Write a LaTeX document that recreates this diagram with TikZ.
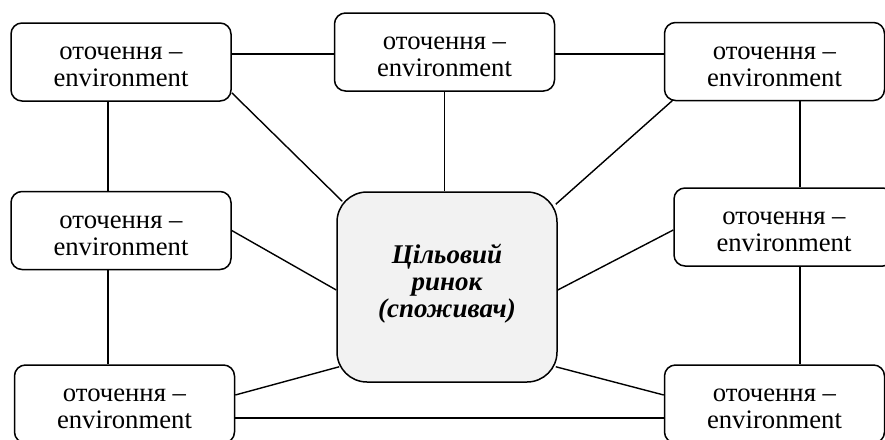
\documentclass[tikz,border=0pt]{standalone}
\usepackage{fontspec}
\setmainfont{Liberation Serif}
\usetikzlibrary{calc}
\newcommand{\envtext}{\rule{0pt}{23pt}оточення –\\environment}
\begin{document}
\begin{tikzpicture}[x=1pt,y=-1pt,
  envbox/.style={draw=black,line width=1.5pt,rounded corners=11pt,fill=white,
    minimum width=220pt,minimum height=78pt,inner sep=0pt,align=center,
    font=\fontsize{26.7}{27}\selectfont},
  mainbox/.style={draw=black,line width=1.5pt,rounded corners=30pt,fill=mainfill,
    minimum width=220pt,minimum height=190pt,inner sep=0pt,align=center,
    font=\fontsize{27}{27}\selectfont\bfseries\itshape},
  link/.style={draw=black,line width=1.4pt}]
\definecolor{mainfill}{HTML}{F2F2F2}
\clip (0,0) rectangle (885,439);
\fill[white] (0,0) rectangle (885,439);
% nodes
\node[mainbox] (C) at (447,287) {Цільовий\\ринок\\(споживач)\rule[-13.4pt]{0pt}{13.4pt}};
\node[envbox] (TL) at (121,62) {\envtext};
\node[envbox] (TM) at (444.5,52) {\envtext};
\node[envbox] (TR) at (774.5,61.5) {\envtext};
\node[envbox] (LM) at (121,230.5) {\envtext};
\node[envbox] (RM) at (784,227) {\envtext};
\node[envbox] (BL) at (124.5,404) {\envtext};
\node[envbox] (BR) at (774.5,404) {\envtext};
% connectors
\draw[link] ($(TL.east)+(0,-8)$) -- ($(TM.west)+(0,2)$);
\draw[link] ($(TM.east)+(0,2)$) -- ($(TR.west)+(0,-7.5)$);
\draw[link] (TM.south) -- (TM.south |- C.north);
\draw[link] ($(TL.south east)+(0,-9)$) -- ($(C.north west)+(6,10)$);
\draw[link] ($(TR.south west)+(9,-1)$) -- ($(C.north east)+(-2,13)$);
\draw[link] ($(TL.south)+(-13,0)$) -- ($(LM.north)+(-13,0)$);
\draw[link] ($(TR.south)+(25.5,0)$) -- ($(RM.north)+(16,0)$);
\draw[link] (LM.east) -- ($(C.west)+(0,3)$);
\draw[link] ($(RM.west)+(0,3)$) -- ($(C.east)+(0,3)$);
\draw[link] ($(LM.south)+(-13,0)$) -- ($(BL.north)+(-16.5,0)$);
\draw[link] ($(RM.south)+(16,0)$) -- ($(BR.north)+(25.5,0)$);
\draw[link] ($(BL.east)+(0,-9)$) -- ($(C.south west)+(3,-16)$);
\draw[link] ($(BR.west)+(0,-9)$) -- ($(C.south east)+(-2,-16)$);
\draw[link] ($(BL.east)+(0,14)$) -- ($(BR.west)+(0,14)$);
\end{tikzpicture}
\end{document}
